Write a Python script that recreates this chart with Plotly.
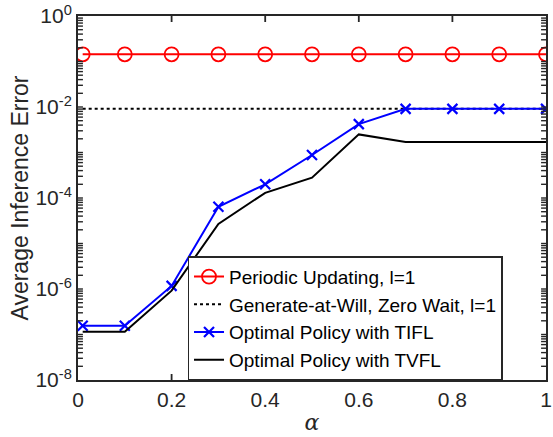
import math
import plotly.graph_objects as go

alpha = [0.01, 0.1, 0.2, 0.3, 0.4, 0.5, 0.6, 0.7, 0.8, 0.9, 1.0]
periodic = [0.144] * 11
gaw = [0.0091] * 11
tifl = [1.56e-7, 1.56e-7, 1.17e-6, 6.4e-5, 2.0e-4, 8.8e-4, 4.2e-3, 9.1e-3, 9.1e-3, 9.1e-3, 9.1e-3]
tvfl = [1.15e-7, 1.15e-7, 9.2e-7, 2.7e-5, 1.3e-4, 2.8e-4, 2.5e-3, 1.7e-3, 1.7e-3, 1.7e-3, 1.7e-3]

ylabels = {-8: "10<sup>-8</sup>", -6: "10<sup>-6</sup>", -4: "10<sup>-4</sup>", -2: "10<sup>-2</sup>", 0: "10<sup>0</sup>"}
xtickvals = [0, 0.2, 0.4, 0.6, 0.8, 1]
xticktext = ["0", "0.2", "0.4", "0.6", "0.8", "1"]

ytickvals, yticktext = [], []
for e in range(-8, 1):
    for k in range(1, 10):
        if e == 0 and k > 1:
            break
        ytickvals.append(k * 10.0 ** e)
        yticktext.append(ylabels.get(e, "") if k == 1 else "")

axcol = "#262626"
W, H = 553, 437
ML, MR, MT, MB = 78, 1, 16, 57
PW, PH = W - ML - MR, H - MT - MB
YMIN, YMAX = -8, 0

fig = go.Figure()
fig.add_trace(go.Scatter(x=alpha, y=periodic, mode="lines+markers", name="Periodic Updating, l=1",
                         line=dict(color="red", width=2),
                         marker=dict(symbol="circle-open", size=14, color="red", line=dict(width=1.8, color="red"))))
fig.add_trace(go.Scatter(x=alpha, y=gaw, mode="lines", name="Generate-at-Will, Zero Wait, l=1",
                         line=dict(color="black", width=2, dash="dot")))
fig.add_trace(go.Scatter(x=alpha, y=tifl, mode="lines+markers", name="Optimal Policy with TIFL",
                         line=dict(color="blue", width=2),
                         marker=dict(symbol="x-thin", size=10, color="blue", line=dict(width=2.2, color="blue"))))
fig.add_trace(go.Scatter(x=alpha, y=tvfl, mode="lines", name="Optimal Policy with TVFL",
                         line=dict(color="black", width=2)))

# inside tick marks (bottom/top and left/right), placed from the tick value arrays
shapes = []
xl = 6.0 / PH
for xv in xtickvals[1:-1]:
    for y0, y1 in ((0, xl), (1, 1 - xl)):
        shapes.append(dict(type="line", xref="x", yref="paper", x0=xv, x1=xv, y0=y0, y1=y1,
                           line=dict(color=axcol, width=1.8), layer="above"))
yl = 5.0 / PW
for yv in ytickvals:
    py = (math.log10(yv) - YMIN) / (YMAX - YMIN)
    if py <= 0 or py >= 1:
        continue
    for x0, x1 in ((0, yl), (1, 1 - yl)):
        shapes.append(dict(type="line", xref="paper", yref="paper", x0=x0, x1=x1, y0=py, y1=py,
                           line=dict(color=axcol, width=1.4), layer="above"))

fig.update_layout(
    width=W, height=H,
    margin=dict(l=ML, r=MR, t=MT, b=MB),
    plot_bgcolor="white", paper_bgcolor="white",
    font=dict(family="Liberation Sans, Arial", size=21, color=axcol),
    showlegend=True,
    shapes=shapes,
    legend=dict(x=0.234, y=0.34, xanchor="left", yanchor="top",
                bgcolor="white", bordercolor=axcol, borderwidth=1.5,
                font=dict(size=19, color="black"), tracegroupgap=0, itemwidth=30),
)
fig.update_xaxes(range=[0, 1], tickvals=xtickvals, ticktext=xticktext, ticklabeloverflow="allow",
                 showgrid=False, zeroline=False, showline=True, linecolor=axcol, linewidth=2,
                 mirror=True, ticks="",
                 title=dict(text="<i>α</i>", font=dict(family="DejaVu Serif", size=22), standoff=4))
fig.update_yaxes(type="log", range=[YMIN, YMAX], tickmode="array", tickvals=ytickvals, ticktext=yticktext,
                 showgrid=False, zeroline=False, showline=True, linecolor=axcol, linewidth=2,
                 mirror=True, ticks="",
                 title=dict(text="Average Inference Error", font=dict(size=23), standoff=0))
fig.write_html("out.html")
